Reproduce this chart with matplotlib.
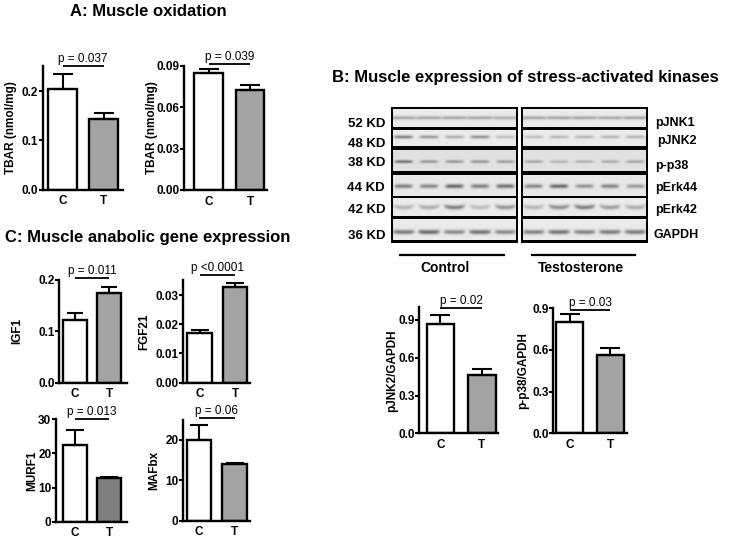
import numpy as np
import matplotlib
matplotlib.use('Agg')
import matplotlib.pyplot as plt

plt.rcParams['font.family'] = ['Liberation Sans', 'DejaVu Sans']
plt.rcParams['font.weight'] = 'bold'

# ---------------- data ----------------
groups = ['C', 'T']

tbar1_mean = [0.205, 0.143]
tbar1_sem = [0.029, 0.013]
tbar2_mean = [0.0847, 0.0726]
tbar2_sem = [0.0029, 0.0036]

igf1_mean = [0.122, 0.175]
igf1_sem = [0.013, 0.012]
fgf21_mean = [0.0169, 0.0326]
fgf21_sem = [0.0011, 0.0014]
murf1_mean = [22.4, 12.8]
murf1_sem = [4.6, 0.3]
mafbx_mean = [20.0, 14.05]
mafbx_sem = [3.7, 0.25]

pjnk2_mean = [0.866, 0.463]
pjnk2_sem = [0.074, 0.045]
pp38_mean = [0.803, 0.564]
pp38_sem = [0.054, 0.053]

p_tbar1 = 'p = 0.037'
p_tbar2 = 'p = 0.039'
p_igf1 = 'p = 0.011'
p_fgf21 = 'p <0.0001'
p_murf1 = 'p = 0.013'
p_mafbx = 'p = 0.06'
p_pjnk2 = 'p = 0.02'
p_pp38 = 'p = 0.03'

blot_rows = ['pJNK1', 'pJNK2', 'p-p38', 'pErk44', 'pErk42', 'GAPDH']
kd_labels = ['52 KD', '48 KD', '38 KD', '44 KD', '42 KD', '36 KD']
# band darkness (0..1) per lane, 5 control and 5 testosterone lanes
ctrl_bands = [
    [0.45, 0.45, 0.45, 0.45, 0.40],
    [0.70, 0.55, 0.40, 0.60, 0.30],
    [0.75, 0.50, 0.50, 0.50, 0.45],
    [0.70, 0.65, 0.85, 0.70, 0.80],
    [0.35, 0.40, 0.70, 0.30, 0.55],
    [0.75, 0.85, 0.65, 0.80, 0.65],
]
testo_bands = [
    [0.45, 0.45, 0.45, 0.42, 0.45],
    [0.30, 0.35, 0.35, 0.35, 0.35],
    [0.40, 0.30, 0.35, 0.35, 0.40],
    [0.65, 0.85, 0.55, 0.65, 0.50],
    [0.35, 0.60, 0.70, 0.50, 0.40],
    [0.70, 0.80, 0.70, 0.75, 0.75],
]
group_names = ['Control', 'Testosterone']

# ---------------- layout helpers ----------------
W, H = 730, 539
fig = plt.figure(figsize=(W / 100, H / 100), dpi=100)


def fx(x):
    return x / W


def fy(y):
    return 1 - y / H


GRAY = '#a3a3a3'
DARK = '#7f7f7f'


def bar_panel(axL, xR, top, bot, cbar, tbar, means, sems, ymax, ticks, fmt,
              ylabel, lab_cx, ptext, pline_y, tcolor=GRAY):
    ax = fig.add_axes([fx(axL), fy(bot), (xR - axL) / W, (bot - top) / H])
    cC = (cbar[0] + cbar[1]) / 2
    cT = (tbar[0] + tbar[1]) / 2
    s = cT - cC
    width = ((cbar[1] - cbar[0]) + (tbar[1] - tbar[0])) / 2 / s
    ax.bar(groups, means, width=width, color=['white', tcolor],
           edgecolor='black', linewidth=1.7, zorder=2)
    cap = width * s * 0.72 * 0.36
    ax.errorbar(groups, means, yerr=[[0, 0], sems], fmt='none',
                ecolor='black', elinewidth=1.5, capsize=cap, capthick=1.5,
                zorder=3)
    ax.set_xlim((axL - cC) / s, (xR - cC) / s)
    ax.set_ylim(0, ymax)
    ax.set_yticks(ticks)
    ax.set_yticklabels([fmt % t for t in ticks])
    for sp in ['top', 'right']:
        ax.spines[sp].set_visible(False)
    for sp in ['left', 'bottom']:
        ax.spines[sp].set_linewidth(1.7)
    ax.tick_params(axis='y', direction='out', length=2.6, width=1.5,
                   pad=0.8, labelsize=8.5)
    ax.tick_params(axis='x', length=0, pad=4, labelsize=8.5)
    ax.set_ylabel(ylabel, fontsize=8.5, fontweight='bold')
    ax.yaxis.set_label_coords((lab_cx + 6.5 - axL) / (xR - axL), 0.5)
    ax.plot([0, 1], [pline_y, pline_y], color='black', lw=1.3,
            clip_on=False, solid_capstyle='butt')
    ax.annotate(ptext, xy=(0.5, pline_y), xytext=(0, 0.6),
                textcoords='offset points', ha='center', va='bottom',
                fontsize=8.5, fontweight='normal', annotation_clip=False)
    return ax


# ---- Panel A ----
fig.text(fx(148), fy(16), 'A: Muscle oxidation', ha='center',
         va='baseline', fontsize=12)
bar_panel(42.7, 123, 66.4, 189.5, (48.3, 76.7), (89.3, 118.3),
          tbar1_mean, tbar1_sem, 0.25, [0, 0.1, 0.2], '%.1f',
          'TBAR (nmol/mg)', 11, p_tbar1, 0.2507)
bar_panel(184.3, 266.7, 66, 190, (194.3, 222.7), (236, 264),
          tbar2_mean, tbar2_sem, 0.09, [0, 0.03, 0.06, 0.09], '%.2f',
          'TBAR (nmol/mg)', 151, p_tbar2, 0.0915)

# ---- Panel C ----
fig.text(fx(148), fy(241.7), 'C: Muscle anabolic gene expression',
         ha='center', va='baseline', fontsize=12)
bar_panel(59.3, 126.7, 280, 382.7, (63.3, 86.7), (97.3, 120.7),
          igf1_mean, igf1_sem, 0.2, [0, 0.1, 0.2], '%.1f',
          'IGF1', 16.7, p_igf1, 0.2033)
bar_panel(183.3, 250, 280.4, 382.7, (187, 212), (223, 247),
          fgf21_mean, fgf21_sem, 0.035, [0, 0.01, 0.02, 0.03], '%.2f',
          'FGF21', 143.3, p_fgf21, 0.0368)
bar_panel(56, 126.7, 419.3, 521.7, (62.7, 87.3), (97.3, 120.7),
          murf1_mean, murf1_sem, 30, [0, 10, 20, 30], '%d',
          'MURF1', 32, p_murf1, 30.0, tcolor=DARK)
bar_panel(183.3, 250, 419.8, 520.7, (186.7, 211.7), (222.7, 246.7),
          mafbx_mean, mafbx_sem, 25, [0, 10, 20], '%d',
          'MAFbx', 154, p_mafbx, 25.4)

# ---- Panel B bars ----
fig.text(fx(525), fy(81.7),
         'B: Muscle expression of stress-activated kinases',
         ha='center', va='baseline', fontsize=12)
bar_panel(419.3, 498.3, 307.4, 433.3, (426.7, 454), (468, 495.7),
          pjnk2_mean, pjnk2_sem, 1.0, [0, 0.3, 0.6, 0.9], '%.1f',
          'pJNK2/GAPDH', 391.7, p_pjnk2, 0.993)
bar_panel(553.3, 626.7, 308.3, 433.3, (556.7, 582.7), (596.7, 624),
          pp38_mean, pp38_sem, 0.9, [0, 0.3, 0.6, 0.9], '%.1f',
          'p-p38/GAPDH', 523, p_pp38, 0.888)

# ---- Panel B western blot ----
blot_top, blot_bot = 107.3, 242.7
row_top = [107.3, 129.3, 149.3, 174.0, 197.3, 219.3]
row_bot = [128.3, 147.3, 171.7, 196.7, 216.7, 242.7]
band_frac = [0.52, 0.44, 0.55, 0.53, 0.45, 0.57]
band_hw = [0.56, 0.38, 0.36, 0.36, 0.40, 0.42]
band_sig = [1.8, 1.7, 1.5, 2.1, 2.2, 2.2]
band_curv = [0.0, 0.0, 0.0, 0.0, 9.0, 2.0]
row_bg = [0.92, 0.92, 0.88, 0.91, 0.92, 0.92]
boxes = [(391, 518.3), (521, 648.3)]

for (bx0, bx1), bands in zip(boxes, [ctrl_bands, testo_bands]):
    ax = fig.add_axes([fx(bx0), fy(blot_bot), (bx1 - bx0) / W,
                       (blot_bot - blot_top) / H])
    ax.set_facecolor('black')
    ax.set_xticks([])
    ax.set_yticks([])
    for sp in ax.spines.values():
        sp.set_visible(False)
    lane_px = (bx1 - bx0) / 5
    ix = 2.4 / lane_px
    for r in range(len(blot_rows)):
        t = row_top[r] - blot_top + (2.2 if r == 0 else 1.0)
        b = row_bot[r] - blot_top - (2.2 if r == len(blot_rows) - 1 else 1.0)
        x0, x1 = -0.5 + ix, 4.5 - ix
        xs = np.linspace(x0, x1, 300)
        ys = np.linspace(t, b, 40)
        X, Y = np.meshgrid(xs, ys)
        yc0 = row_top[r] - blot_top + band_frac[r] * (row_bot[r] - row_top[r])
        dark = np.zeros_like(X)
        for i, d in enumerate(bands[r]):
            dx = X - i
            yc = yc0 + band_curv[r] * (0.16 - dx ** 2) * (np.abs(dx) < 0.6)
            px_ = np.exp(-(dx / band_hw[r]) ** 6)
            py_ = np.exp(-((Y - yc) / band_sig[r]) ** 2)
            dark = np.maximum(dark, d * px_ * py_)
        img = np.clip(row_bg[r] - 0.58 * dark, 0, 1)
        ax.imshow(img, cmap='gray', vmin=0, vmax=1, aspect='auto',
                  extent=(x0, x1, b, t), interpolation='bilinear')
    ax.set_xlim(-0.5, 4.5)
    ax.set_ylim(blot_bot - blot_top, 0)

kd_base = [126.7, 147.3, 166.0, 191.0, 212.7, 239.3]
row_base = [126.0, 144.3, 169.3, 191.0, 212.7, 238.3]
row_x = [655, 656.7, 655, 655, 655, 653.3]
for lab, yb in zip(kd_labels, kd_base):
    fig.text(fx(385), fy(yb), lab, ha='right', va='baseline', fontsize=9.5)
for lab, yb, xl in zip(blot_rows, row_base, row_x):
    fig.text(fx(xl), fy(yb), lab, ha='left', va='baseline', fontsize=9)

line_y = 255
for (lx0, lx1), name in zip([(400, 504), (531.7, 635)], group_names):
    fig.add_artist(plt.Line2D([fx(lx0), fx(lx1)], [fy(line_y), fy(line_y)],
                              color='black', lw=1.6))
    fig.text(fx((lx0 + lx1) / 2 - 7 if name == 'Control' else (lx0 + lx1) / 2 - 2),
             fy(271.7), name, ha='center', va='baseline', fontsize=10)

fig.savefig('out.png', dpi=100)
